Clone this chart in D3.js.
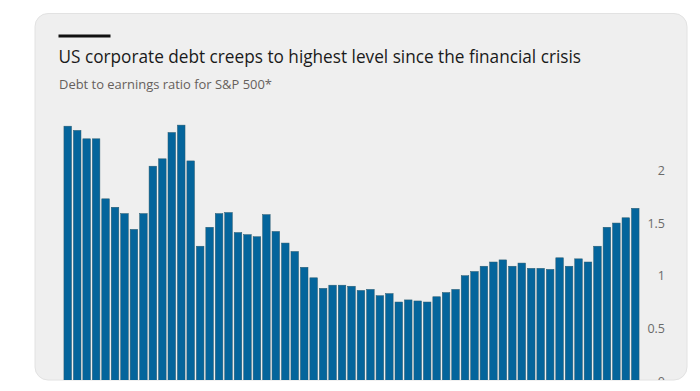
<!DOCTYPE html>
<html>
<head>
<meta charset="utf-8">
<script src="https://cdn.jsdelivr.net/npm/d3@7"></script>
<style>
  html, body { margin: 0; padding: 0; background: #ffffff; }
  svg { display: block; }
</style>
</head>
<body>
<svg id="chart" width="700" height="391"></svg>
<script>
// ---- data ----
const title = "US corporate debt creeps to highest level since the financial crisis";
const subtitle = "Debt to earnings ratio for S&P 500*";
const periods = d3.range(1, 62).map(i => "P" + i);
const ratios = [
  2.42, 2.38, 2.30, 2.30, 1.73, 1.65, 1.59, 1.44, 1.59, 2.04,
  2.11, 2.36, 2.43, 2.09, 1.28, 1.46, 1.59, 1.60, 1.41, 1.39,
  1.37, 1.58, 1.42, 1.31, 1.23, 1.08, 0.98, 0.88, 0.91, 0.91,
  0.90, 0.86, 0.87, 0.81, 0.83, 0.75, 0.77, 0.76, 0.75, 0.80,
  0.84, 0.87, 1.00, 1.04, 1.09, 1.13, 1.15, 1.09, 1.12, 1.07,
  1.07, 1.06, 1.17, 1.09, 1.16, 1.13, 1.28, 1.46, 1.50, 1.55,
  1.64
];
const yTicks = [0, 0.5, 1, 1.5, 2];
const yTickLabels = ["0", "0.5", "1", "1.5", "2"];

// ---- layout ----
const svg = d3.select("#chart");
const card = { x: 35, y: 13.5, w: 652, h: 366.5, r: 13 };

svg.append("defs").append("clipPath").attr("id", "cardclip")
  .append("rect")
  .attr("x", card.x).attr("y", card.y).attr("width", card.w).attr("height", card.h)
  .attr("rx", card.r).attr("ry", card.r);

svg.append("rect")
  .attr("x", card.x).attr("y", card.y).attr("width", card.w).attr("height", card.h)
  .attr("rx", card.r).attr("ry", card.r)
  .attr("fill", "#efefef").attr("stroke", "#e2e2e2").attr("stroke-width", 1);

const g = svg.append("g").attr("clip-path", "url(#cardclip)");

// top black rule
g.append("rect").attr("x", 58.5).attr("y", 34.5).attr("width", 52).attr("height", 3).attr("fill", "#111");

function fitText(sel, targetW) {
  const node = sel.node();
  let fs = parseFloat(sel.attr("font-size"));
  const w = node.getComputedTextLength();
  if (w > 0) sel.attr("font-size", (fs * targetW / w).toFixed(2));
}

const t = g.append("text").attr("x", 58.5).attr("y", 63)
  .attr("font-family", "'Open Sans', 'Noto Sans', sans-serif")
  .attr("font-size", 19).attr("fill", "#1a1a1a").text(title);
fitText(t, 523);

const s = g.append("text").attr("x", 59).attr("y", 89)
  .attr("font-family", "'Open Sans', 'Noto Sans', sans-serif")
  .attr("font-size", 12.5).attr("fill", "#66605c").text(subtitle);
fitText(s, 213);

// scales
const x = d3.scaleBand().domain(periods).range([63, 640]).paddingInner(0.2).paddingOuter(0.1);
const y = d3.scaleLinear().domain([0, 2]).range([381, 170.4]);

// bars
g.append("g").selectAll("rect").data(ratios).join("rect")
  .attr("x", (d, i) => x(periods[i]))
  .attr("y", d => y(d))
  .attr("width", x.bandwidth())
  .attr("height", d => y(0) - y(d))
  .attr("fill", "#04659c")
  .attr("stroke", "#2a5a6e")
  .attr("stroke-width", 0.5);

// y axis on right
const yAxis = d3.axisRight(y).tickValues(yTicks).tickSize(0)
  .tickFormat((d, i) => yTickLabels[i]);
const ya = g.append("g").attr("transform", "translate(665,0)").call(yAxis);
ya.select(".domain").remove();
ya.selectAll("text")
  .attr("x", 0)
  .attr("text-anchor", "end")
  .attr("font-family", "'Open Sans', 'Noto Sans', sans-serif")
  .attr("font-size", 12.5)
  .attr("fill", "#6a6a6a");
</script>
</body>
</html>
